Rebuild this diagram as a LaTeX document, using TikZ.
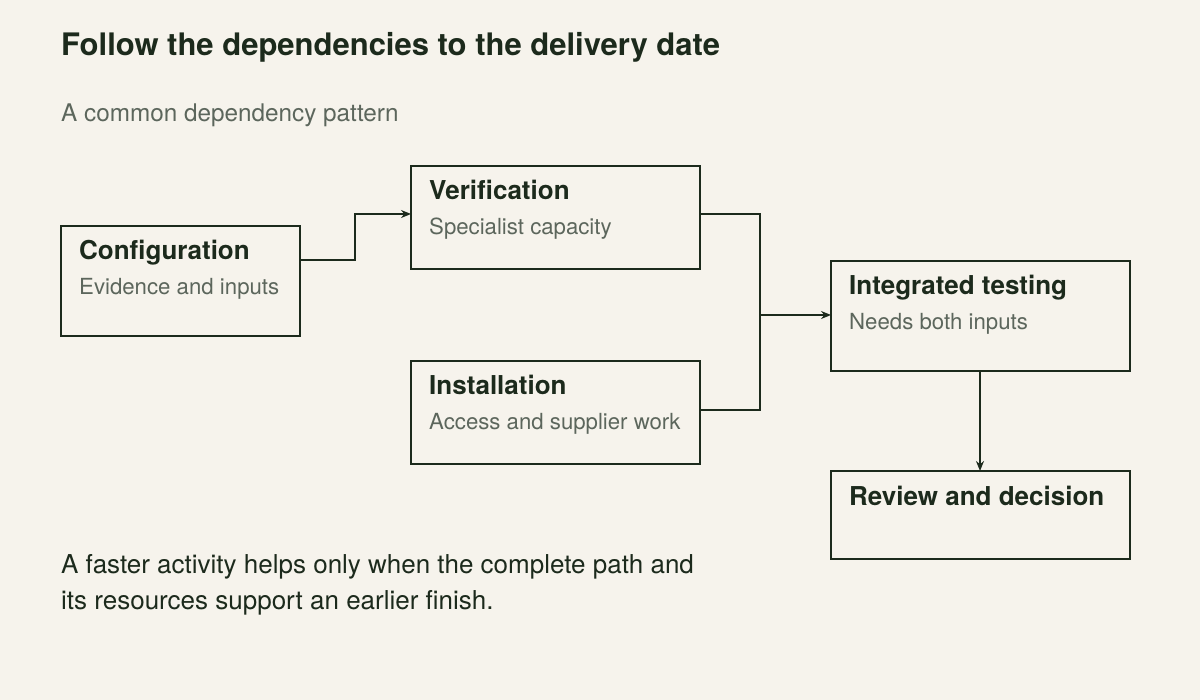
\documentclass[tikz,border=0pt]{standalone}
\usepackage{fontspec}
\setmainfont{TeX Gyre Heros}
\usetikzlibrary{arrows.meta}
\definecolor{bg}{HTML}{F6F3EC}
\definecolor{ink}{HTML}{1C2A1C}
\definecolor{mut}{HTML}{5C665C}
\begin{document}
\begin{tikzpicture}[x=1pt,y=-1pt,
  box/.style={draw=ink,line width=2pt,fill=bg},
  ttl/.style={anchor=base west,text=ink,font=\fontsize{26}{30}\selectfont\bfseries,inner sep=0},
  sub/.style={anchor=base west,text=mut,font=\fontsize{22.2}{26}\selectfont,inner sep=0},
  con/.style={draw=ink,line width=2.5pt},
  arr/.style={con,-{Stealth[length=10pt,width=8pt]}}]
\fill[bg] (0,0) rectangle (1200,700);
\useasboundingbox (0,0) rectangle (1200,700);
\node[anchor=base west,text=ink,font=\fontsize{31}{36}\selectfont\bfseries,inner sep=0] (title) at (61,56) {Follow the dependencies to the delivery date};
\node[anchor=base west,text=mut,font=\fontsize{24.3}{28}\selectfont,inner sep=0] (subt) at (61,122) {A common dependency pattern};
% boxes
\draw[box] (61,226) rectangle (300,336); \coordinate (cfgR) at (300,260);
\node[ttl] (c1) at (79,260) {Configuration};
\node[sub] (c2) at (79,295) {Evidence and inputs};
\draw[box] (411,166) rectangle (700,269); \coordinate (verL) at (411,214); \coordinate (verR) at (700,214);
\node[ttl] (v1) at (429,200) {Verification};
\node[sub] (v2) at (429,235) {Specialist capacity};
\draw[box] (411,361) rectangle (700,464); \coordinate (insR) at (700,410);
\node[ttl] (i1) at (429,395) {Installation};
\node[sub] (i2) at (429,430) {Access and supplier work};
\draw[box] (831,261) rectangle (1130,371); \coordinate (intL) at (831,315); \coordinate (intB) at (980,371);
\node[ttl] (t1) at (849,295) {Integrated testing};
\node[sub] (t2) at (849,330) {Needs both inputs};
\draw[box] (831,471) rectangle (1130,559); \coordinate (revT) at (980,471);
\node[ttl] (r1) at (849,505) {Review and decision};
% connectors
\coordinate (j) at (760,315);
\draw[arr] (cfgR) -- (355,260) -- (355,214) -- (verL);
\draw[con] (verR) -- (760,214) -- (j);
\draw[con] (insR) -- (760,410) -- (j);
\draw[arr] (j) -- (intL);
\draw[arr] (intB) -- (revT);
\node[anchor=base west,text=ink,font=\fontsize{26}{36}\selectfont,inner sep=0,align=left] (note) at (61,609) {A faster activity helps only when the complete path and\\its resources support an earlier finish.};
\end{tikzpicture}
\end{document}
